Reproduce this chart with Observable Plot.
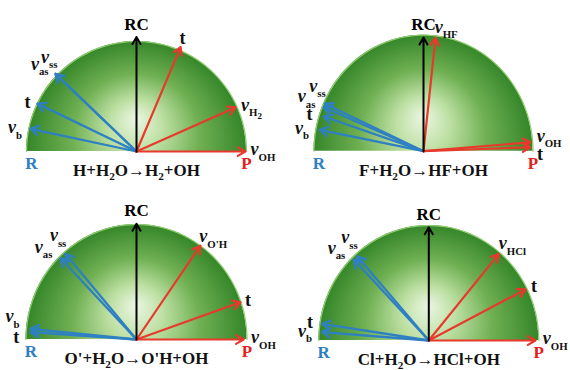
<!DOCTYPE html>
<html><head><meta charset="utf-8">
<script src="https://cdn.jsdelivr.net/npm/d3@7"></script>
<script src="https://cdn.jsdelivr.net/npm/@observablehq/plot@0.6"></script>
<style>
html,body{margin:0;padding:0;background:#fff;}
#chart{position:relative;width:570px;height:370px;overflow:hidden;background:#fff;}
#chart svg{position:absolute;background:transparent;}
</style></head><body><div id="chart"></div>
<script>
// ---- data ----
const equations = ["H+H_{2}O→H_{2}+OH", "F+H_{2}O→HF+OH", "O'+H_{2}O→O'H+OH", "Cl+H_{2}O→HCl+OH"];
const reactantLabels = ["v_{ss}", "v_{as}", "t", "v_{b}"];
const reactantAngles = [[136.2, 136.2, 154.2, 167.9], [155.6, 157.4, 161.8, 169.0], [130.8, 134.2, 176.2, 174.5], [131.6, 134.1, 171.5, 175.7]];
const reactantLengths = [[1.02, 1.02, 1.0, 0.985], [0.99, 0.986, 0.958, 0.965], [0.984, 0.986, 0.961, 0.964], [0.98, 0.98, 0.98, 0.972]];
const productLabels = [["t", "v_{H_{2}}", "v_{OH}"], ["v_{HF}", "v_{OH}", "t"], ["v_{O'H}", "t", "v_{OH}"], ["v_{HCl}", "t", "v_{OH}"]];
const productAngles = [[67.1, 24.0, 0], [83.6, 4.5, 2.0], [54.7, 19.0, 0], [49.8, 26.8, 0]];
const productLengths = [[1.03, 0.985, 0.99], [0.984, 0.98, 0.977], [1.0, 0.995, 0.97], [0.986, 0.985, 0.97]];
const rcLengths = [1.04, 0.98, 1.006, 0.985];

// ---- layout ----
const W = 285, H = 185;
const panelLayout = [
  {left: 0, top: 0, cx: 136, cy: 151, rx: 110, ry: 110},
  {left: 285, top: 0, cx: 138, cy: 150.7, rx: 109.5, ry: 116},
  {left: 0, top: 185, cx: 136, cy: 154, rx: 110.5, ry: 115},
  {left: 285, top: 185, cx: 143.3, cy: 155, rx: 110, ry: 115}
];
const FONT = '"Liberation Serif","Times New Roman",serif';
const BLUE = "#2e80c3", RED = "#e8392c";
const arc = d3.range(180, -1, -2).map(a => ({x: Math.cos(a * Math.PI / 180), y: Math.sin(a * Math.PI / 180)}));

function parse(s) {
  const out = []; let lvl = 0, cur = "";
  for (let i = 0; i < s.length; i++) {
    const c = s[i];
    if (c === "_" && s[i + 1] === "{") { if (cur) out.push([cur, lvl]); cur = ""; lvl++; i++; }
    else if (c === "}") { if (cur) out.push([cur, lvl]); cur = ""; lvl--; }
    else cur += c;
  }
  if (cur) out.push([cur, lvl]);
  return out;
}

const chart = document.getElementById("chart");

panelLayout.forEach((L, p) => {
  const arrows = [];
  reactantLabels.forEach((lab, k) => arrows.push({side: "R", label: lab, angle: reactantAngles[p][k], len: reactantLengths[p][k]}));
  productLabels[p].forEach((lab, k) => arrows.push({side: "P", label: lab, angle: productAngles[p][k], len: productLengths[p][k]}));
  arrows.forEach(a => { const r = a.angle * Math.PI / 180; a.x = a.len * Math.cos(r); a.y = a.len * Math.sin(r); });
  arrows.forEach((a, i) => {
    const r = a.angle * Math.PI / 180, r0 = Math.max(a.len, 1);
    const bx = r0 * Math.cos(r), by = r0 * Math.sin(r);
    const mate = arrows.findIndex((b, j) => j !== i && b.side === a.side && Math.abs(b.angle - a.angle) < 4);
    let higher = false;
    if (mate >= 0) {
      const b = arrows[mate];
      higher = a.side === "R" ? (a.angle < b.angle || (a.angle === b.angle && i < mate)) : (a.angle > b.angle);
    }
    let dx, dy, anchor;
    if (a.angle > 100) {
      anchor = "end";
      if (a.angle < 160 && mate >= 0) { dx = higher ? 2 : -7; dy = higher ? 17 : 10; }
      else { dx = -7; dy = mate < 0 ? 1 : (higher ? 12 : -5); }
    } else if (a.angle >= 40) { anchor = "start"; dx = -1; dy = 9; }
    else { anchor = "start"; dx = 4; dy = mate < 0 ? 2 : (higher ? 6 : -7); }
    a.lx = bx + dx / L.rx; a.ly = by + dy / L.ry; a.anchor = anchor;
  });

  const svg = Plot.plot({
    width: W, height: H, margin: 0,
    style: {background: "transparent", overflow: "visible"},
    x: {domain: [-L.cx / L.rx, (W - L.cx) / L.rx], axis: null},
    y: {domain: [-(H - L.cy) / L.ry, L.cy / L.ry], axis: null},
    marks: [
      Plot.areaY(arc, {x: "x", y: "y", fill: `url(#disc${p})`}),
      Plot.line(arc, {x: "x", y: "y", stroke: "#8fce6e", strokeWidth: 1.2}),
      Plot.arrow(arrows.filter(a => a.side === "R"), {x1: () => 0, y1: () => 0, x2: "x", y2: "y", stroke: BLUE, strokeWidth: 2.3, headLength: 6}),
      Plot.arrow(arrows.filter(a => a.side === "P"), {x1: () => 0, y1: () => 0, x2: "x", y2: "y", stroke: RED, strokeWidth: 2.2, headLength: 6}),
      Plot.arrow([rcLengths[p]], {x1: () => 0, y1: () => 0, x2: () => 0, y2: d => d, stroke: "black", strokeWidth: 2, headLength: 6}),
      Plot.text(["RC"], {x: () => 0, y: d => rcLengths[p] + 13 / L.ry, text: d => d, fontSize: 17, fontWeight: "bold", fontFamily: FONT, fill: "black"}),
      Plot.text(["R"], {x: () => -0.955, y: () => -12 / L.ry, text: d => d, fontSize: 17, fontWeight: "bold", fontFamily: FONT, fill: BLUE}),
      Plot.text(["P"], {x: () => 1.0, y: () => -12 / L.ry, text: d => d, fontSize: 17, fontWeight: "bold", fontFamily: FONT, fill: "#e3211c"}),
      Plot.text([equations[p]], {x: () => 0, y: () => -19 / L.ry, text: d => d, fontSize: 17, fontWeight: "bold", fontFamily: FONT, fill: "#111"}),
      Plot.text(arrows.filter(a => a.anchor === "start"), {x: "lx", y: "ly", text: "label", textAnchor: "start", fontSize: 18, fontWeight: "bold", fontFamily: FONT, fill: "#111"}),
      Plot.text(arrows.filter(a => a.anchor === "end"), {x: "lx", y: "ly", text: "label", textAnchor: "end", fontSize: 18, fontWeight: "bold", fontFamily: FONT, fill: "#111"})
    ]
  });
  svg.style.left = L.left + "px";
  svg.style.top = L.top + "px";
  chart.appendChild(svg);

  const defs = d3.select(svg).insert("defs", ":first-child");
  const g = defs.append("radialGradient").attr("id", `disc${p}`)
    .attr("cx", 0.5).attr("cy", 1).attr("r", 0.5).attr("fx", 0.5).attr("fy", 0.85)
    .attr("gradientTransform", "translate(0.5,1) scale(1,2) translate(-0.5,-1)");
  [[0, "#ebf6e2"], [0.25, "#bcdfa2"], [0.58, "#6fb052"], [1, "#35862a"]].forEach(([o, c]) =>
    g.append("stop").attr("offset", o).attr("stop-color", c));

  d3.select(svg).selectAll("text").each(function () {
    const s = this.textContent;
    if (!(s.includes("_{") || s === "v")) return;
    const base = parseFloat(getComputedStyle(this).fontSize) || 16;
    const segs = parse(s);
    const isEq = s.includes("→");
    const offsets = [0, isEq ? 0.25 : 0.3, 0.45], sizes = [1, isEq ? 0.66 : 0.6, 0.5];
    this.textContent = "";
    let prev = 0;
    segs.forEach(([t, l]) => {
      const ts = d3.select(this).append("tspan").text(t).attr("font-size", base * sizes[l]);
      const shift = (offsets[l] - offsets[prev]) * base;
      if (shift) ts.attr("dy", shift);
      if (l === 0 && t === "v") ts.attr("font-style", "italic");
      prev = l;
    });
  });
});
</script>
</body></html>
